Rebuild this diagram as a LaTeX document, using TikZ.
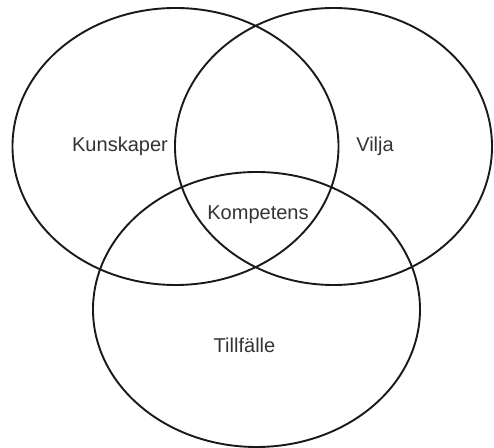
\documentclass[tikz,border=0pt]{standalone}
\usepackage{fontspec}
\setmainfont{Liberation Sans}
\usetikzlibrary{shapes.geometric}

\tikzset{
  venn/.style={ellipse, draw=black!90, line width=0.038cm, inner sep=0pt},
  setlabel/.style={text=black!80, font=\fontsize{11.4}{13}\selectfont, inner sep=0pt}
}

\begin{document}
\begin{tikzpicture}[x=0.02cm, y=-0.02cm]
  \useasboundingbox (0,0) rectangle (494,448);
  % the three sets
  \node[venn, minimum width=326*0.02cm, minimum height=277*0.02cm] (kunskaper) at (175.5,146.5) {};
  \node[venn, minimum width=317*0.02cm, minimum height=277*0.02cm] (vilja) at (333.5,146.5) {};
  \node[venn, minimum width=327*0.02cm, minimum height=275*0.02cm] (tillfalle) at (256.5,309.5) {};
  % labels
  \node[setlabel] (kunskaperlabel) at (120,146) {Kunskaper};
  \node[setlabel] (viljalabel) at (375,146) {Vilja};
  \node[setlabel] (kompetenslabel) at (258,215) {Kompetens};
  \node[setlabel] (tillfallelabel) at (244.5,345) {Tillfälle};
\end{tikzpicture}
\end{document}
